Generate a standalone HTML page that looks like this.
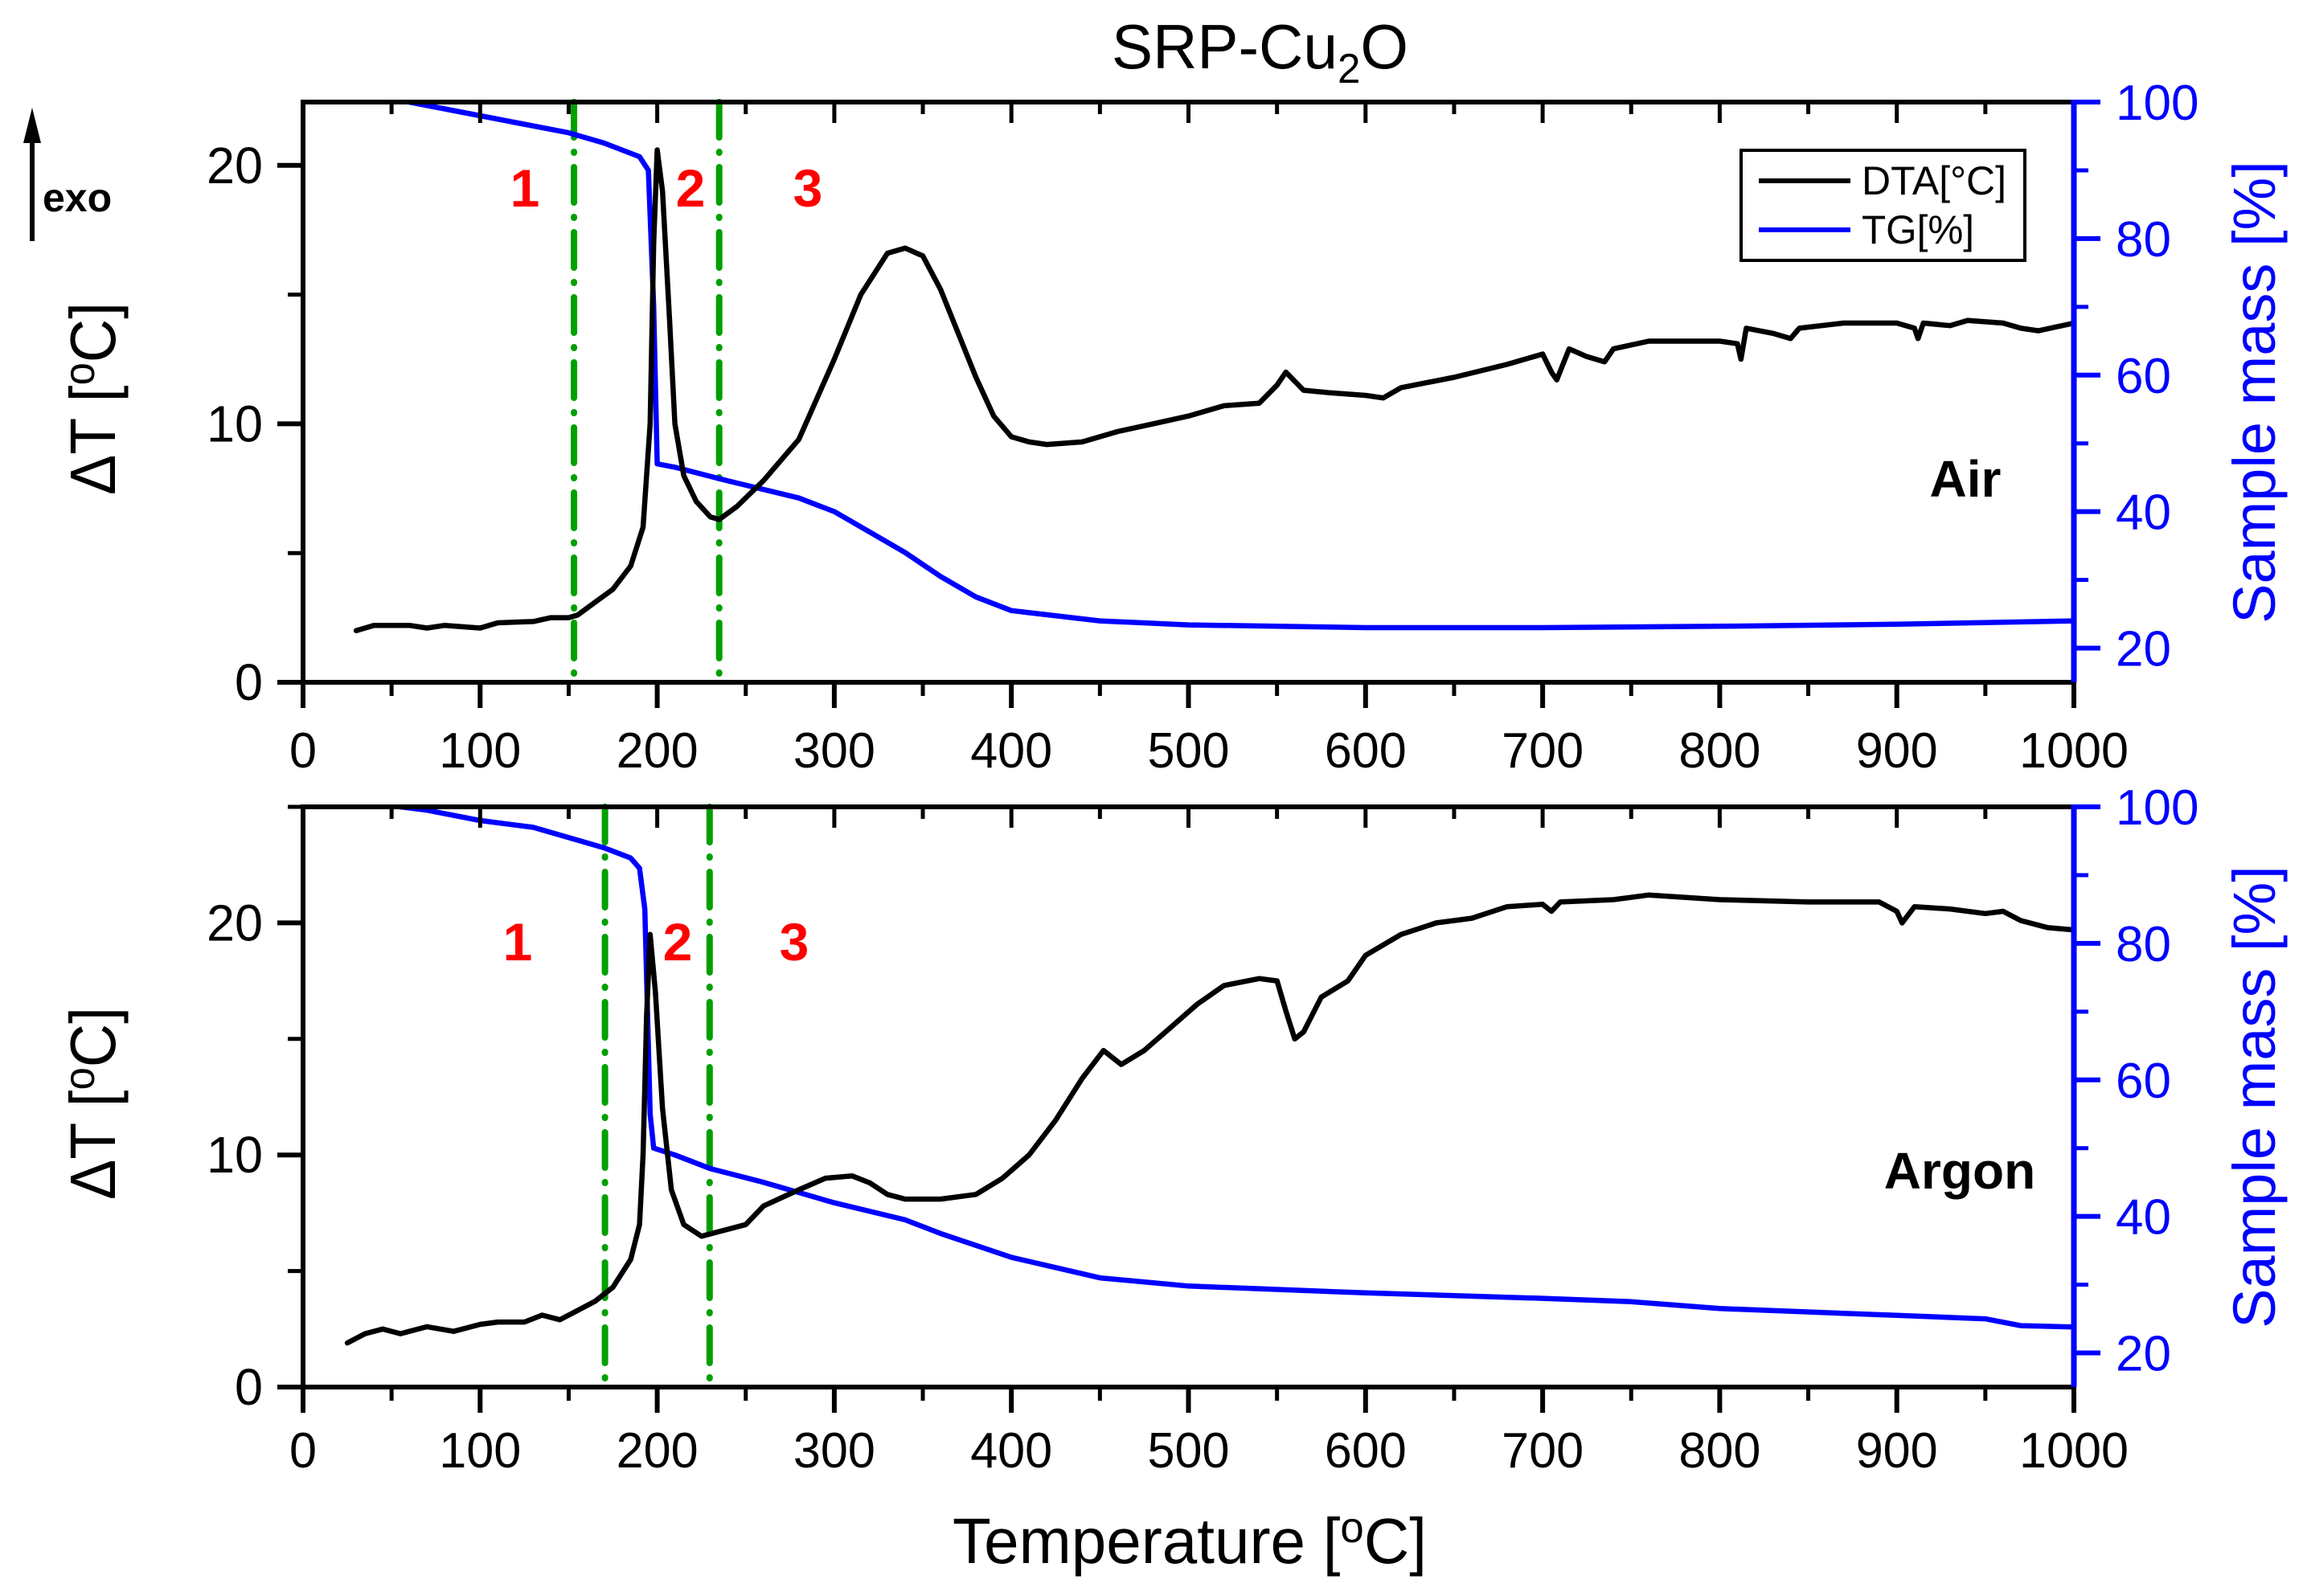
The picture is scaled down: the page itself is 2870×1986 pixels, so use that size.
<!DOCTYPE html>
<html><head><meta charset="utf-8">
<style>
html,body{margin:0;padding:0;background:#fff;}
svg{display:block;}
text{font-family:"Liberation Sans Narrow","Liberation Sans",sans-serif;}
</style></head>
<body>
<svg id="chart" width="2870" height="1986" viewBox="0 0 2870 1986" xmlns="http://www.w3.org/2000/svg">
<rect x="0" y="0" width="2870" height="1986" fill="#fff"/>
<text x="1383" y="85" font-size="78" textLength="369" lengthAdjust="spacingAndGlyphs">SRP-Cu<tspan font-size="52" dy="18">2</tspan><tspan dy="-18">O</tspan></text>
<g>
<line x1="40" y1="300" x2="40" y2="170" stroke="#000" stroke-width="6"/>
<polygon points="40,134 29,178 51,178" fill="#000"/>
<text x="53" y="263" font-size="50" font-weight="bold" font-family="Liberation Sans, sans-serif">exo</text>
</g>
</svg>
<script>
// ---------- data ----------
const xTicks = [0,100,200,300,400,500,600,700,800,900,1000];
const dtTicksTop = [0,10,20];
const dtTicksBot = [0,10,20];
const tgTicks = [20,40,60,80,100];

const airDtaT = [30,40,60,70,80,90,100,110,130,140,150,155,165,175,185,192,196,198,200,203,207,210,215,222,230,235,245,260,280,300,315,330,340,350,360,370,380,390,400,410,420,440,460,480,500,520,540,550,555,565,580,600,610,620,650,680,700,705,708,715,725,735,740,760,800,810,812,815,830,840,845,870,900,910,912,915,930,940,960,970,980,1000];
const airDtaV = [2.0,2.2,2.2,2.1,2.2,2.15,2.1,2.3,2.35,2.5,2.5,2.6,3.1,3.6,4.5,6,10,17,20.6,19,14,10,8,7.0,6.4,6.3,6.8,7.8,9.4,12.5,15,16.6,16.8,16.5,15.2,13.5,11.8,10.3,9.5,9.3,9.2,9.3,9.7,10.0,10.3,10.7,10.8,11.5,12.0,11.3,11.2,11.1,11.0,11.4,11.8,12.3,12.7,12.0,11.7,12.9,12.6,12.4,12.9,13.2,13.2,13.1,12.5,13.7,13.5,13.3,13.7,13.9,13.9,13.7,13.3,13.9,13.8,14.0,13.9,13.7,13.6,13.9];
const airTgT = [30,60,80,100,120,150,170,190,195,198,200,210,240,280,300,320,340,360,380,400,450,500,600,700,800,900,1000];
const airTgV = [101,100,99,98,97,95.5,94,92,90,70,47,46.5,44.5,42,40,37,34,30.5,27.5,25.5,24,23.4,23.0,23.0,23.2,23.5,24.0];

const argDtaT = [25,35,45,55,70,85,100,110,125,135,145,155,165,175,185,190,192,194,196,199,203,208,215,225,240,250,260,280,295,310,320,330,340,360,380,395,410,425,440,452,462,475,490,505,520,540,550,555,560,565,575,590,600,620,640,660,680,700,705,710,740,760,800,850,890,900,903,910,930,950,960,970,985,1000];
const argDtaV = [1.9,2.3,2.5,2.3,2.6,2.4,2.7,2.8,2.8,3.1,2.9,3.3,3.7,4.3,5.5,7,10,16,19.5,17,12,8.5,7.0,6.5,6.8,7.0,7.8,8.5,9.0,9.1,8.8,8.3,8.1,8.1,8.3,9.0,10.0,11.5,13.3,14.5,13.9,14.5,15.5,16.5,17.3,17.6,17.5,16.2,15.0,15.3,16.8,17.5,18.6,19.5,20.0,20.2,20.7,20.8,20.5,20.9,21.0,21.2,21.0,20.9,20.9,20.5,20.0,20.7,20.6,20.4,20.5,20.1,19.8,19.7];
const argTgT = [30,55,70,100,130,150,170,185,190,193,196,198,210,230,260,300,340,360,400,450,500,600,700,750,800,900,950,970,1000];
const argTgV = [101,100,99.5,98,97,95.5,94,92.5,91,85,55,50,49,47,45,42,39.5,37.5,34,31,29.8,28.8,28.0,27.5,26.5,25.5,25,24,23.8];

const regionLinesAir = [153,235];
const regionLinesArg = [170.5,229.6];

// ---------- drawing ----------
const NS='http://www.w3.org/2000/svg';
const svg=document.getElementById('chart');
function mk(tag,attrs,parent){const e=document.createElementNS(NS,tag);for(const k in attrs)e.setAttribute(k,attrs[k]);(parent||svg).appendChild(e);return e;}
const X0=377,X1=2580;
function xs(t){return X0+(t-0)/(1000-0)*(X1-X0);}

function panel(cfg){
  const g=mk('g',{});
  
  
  const yT=cfg.yTop,yB=cfg.yBot;
  const yd=v=>yB-(v-0)/(cfg.dtMax-0)*(yB-yT);
  const yg=v=>yB-(v-15)/(100-15)*(yB-yT);
  const clipId='clip-'+cfg.name;
  const cp=mk('clipPath',{id:clipId},g);
  mk('rect',{x:X0,y:yT,width:X1-X0,height:yB-yT},cp);
  cfg.lines.forEach(function(t,i){
    const l=mk('line',{x1:xs(t),x2:xs(t),y1:yT,y2:yB,stroke:'#00a000','stroke-width':8,'stroke-dasharray':'44 18 1 18','stroke-linecap':'round'},g);
    
    
  });
  function path(T,V,f,color,nm){
    let d='';T.forEach((t,i)=>{d+=(i?'L':'M')+xs(t).toFixed(1)+','+f(V[i]).toFixed(1);});
    const p=mk('path',{d:d,fill:'none',stroke:color,'stroke-width':6.5,'stroke-linejoin':'round','stroke-linecap':'round','clip-path':'url(#'+clipId+')'},g);
    
    
  }
  path(cfg.tgT,cfg.tgV,yg,'#0000ff','tg-line');
  path(cfg.dtaT,cfg.dtaV,yd,'#000','dta-line');
  mk('line',{x1:X0,x2:X1,y1:yT,y2:yT,stroke:'#000','stroke-width':6},g);
  mk('line',{x1:X0,x2:X1,y1:yB,y2:yB,stroke:'#000','stroke-width':6},g);
  mk('line',{x1:X0,x2:X0,y1:yT-3,y2:yB+3,stroke:'#000','stroke-width':6},g);
  xTicks.forEach(t=>{
    const x=xs(t);
    mk('line',{x1:x,x2:x,y1:yB,y2:yB+32,stroke:'#000','stroke-width':6},g);
    mk('line',{x1:x,x2:x,y1:yT,y2:yT+26,stroke:'#000','stroke-width':5},g);
    const s=String(t);
    const tx=mk('text',{x:x,y:cfg.xLabelY,'font-size':62,'text-anchor':'middle',textLength:34*s.length,lengthAdjust:'spacingAndGlyphs'},g);
    tx.textContent=s;
    
    
    if(t<1000){const m=xs(t+50);
      mk('line',{x1:m,x2:m,y1:yB,y2:yB+17,stroke:'#000','stroke-width':5},g);
      mk('line',{x1:m,x2:m,y1:yT,y2:yT+15,stroke:'#000','stroke-width':5},g);}
  });
  cfg.dtTicks.forEach(v=>{
    const y=yd(v);
    mk('line',{x1:X0-32,x2:X0,y1:y,y2:y,stroke:'#000','stroke-width':6},g);
    const s=String(v);
    const tx=mk('text',{x:X0-50,y:y+22,'font-size':64,'text-anchor':'end',textLength:35*s.length,lengthAdjust:'spacingAndGlyphs'},g);
    tx.textContent=s;
    
    
    if(yd(v+5)>=yT) mk('line',{x1:X0-19,x2:X0,y1:yd(v+5),y2:yd(v+5),stroke:'#000','stroke-width':5},g);
  });
  mk('line',{x1:X1,x2:X1,y1:yT-3,y2:yB,stroke:'#0000ff','stroke-width':7},g);
  mk('line',{x1:X1,x2:X1,y1:yB,y2:yB+32,stroke:'#000','stroke-width':6},g);
  tgTicks.forEach(v=>{
    const y=yg(v);
    mk('line',{x1:X1,x2:X1+33,y1:y,y2:y,stroke:'#0000ff','stroke-width':6},g);
    const tx=mk('text',{x:X1+52,y:y+22,'font-size':62,fill:'#0000ff','font-family':'Liberation Sans, sans-serif'},g);
    tx.textContent=v;
    
    
    if(v<100) mk('line',{x1:X1,x2:X1+18,y1:yg(v+10),y2:yg(v+10),stroke:'#0000ff','stroke-width':5},g);
  });
  const cy=(yT+yB)/2;
  const lt=mk('text',{x:0,y:0,'font-size':80,'text-anchor':'middle',textLength:240,lengthAdjust:'spacingAndGlyphs',transform:'translate(143,'+(cy+8)+') rotate(-90)'},g);
  lt.innerHTML='ΔT [<tspan font-size="54" dy="-26">o</tspan><tspan dy="26">C]</tspan>';
  
  
  const rt=mk('text',{x:0,y:0,'font-size':74,'text-anchor':'middle',fill:'#0000ff','font-family':'Liberation Sans, sans-serif',transform:'translate(2830,'+cy+') rotate(-90)'},g);
  rt.textContent='Sample mass [%]';
  
  
  cfg.nums.forEach((p,i)=>{
    const tx=mk('text',{x:p[0],y:p[1],'font-size':66,'font-weight':'bold',fill:'#ff0000','text-anchor':'middle','font-family':'Liberation Sans, sans-serif'},g);
    tx.textContent=String(i+1);
    
    
  });
  const at=mk('text',{x:cfg.atm[0],y:cfg.atm[1],'font-size':64,'font-weight':'bold','text-anchor':'middle','font-family':'Liberation Sans, sans-serif'},g);
  at.textContent=cfg.atmName;
  
  
}

panel({name:'air-panel',yTop:127,yBot:849,dtMax:22.45,dtTicks:dtTicksTop,dtaT:airDtaT,dtaV:airDtaV,tgT:airTgT,tgV:airTgV,lines:regionLinesAir,xLabelY:955,nums:[[653,257],[859,257],[1005,257]],atm:[2445,618],atmName:'Air'});
panel({name:'argon-panel',yTop:1004,yBot:1726,dtMax:25,dtTicks:dtTicksBot,dtaT:argDtaT,dtaV:argDtaV,tgT:argTgT,tgV:argTgV,lines:regionLinesArg,xLabelY:1826,nums:[[644,1195],[843,1195],[988,1195]],atm:[2438,1479],atmName:'Argon'});

const lg=mk('g',{});


mk('rect',{x:2166,y:187,width:353,height:137,fill:'#fff',stroke:'#000','stroke-width':4},lg);
mk('line',{x1:2188,x2:2302,y1:225,y2:225,stroke:'#000','stroke-width':6},lg);
mk('line',{x1:2188,x2:2302,y1:286,y2:286,stroke:'#0000ff','stroke-width':6},lg);
const l1=mk('text',{x:2316,y:242,'font-size':50,textLength:180,lengthAdjust:'spacingAndGlyphs'},lg);l1.textContent='DTA[°C]';


const l2=mk('text',{x:2316,y:303,'font-size':50,textLength:140,lengthAdjust:'spacingAndGlyphs'},lg);l2.textContent='TG[%]';



const xt=mk('text',{x:1185,y:1945,'font-size':80,textLength:590,lengthAdjust:'spacingAndGlyphs'});
xt.innerHTML='Temperature [<tspan font-size="54" dy="-26">o</tspan><tspan dy="26">C]</tspan>';


</script>
</body></html>
